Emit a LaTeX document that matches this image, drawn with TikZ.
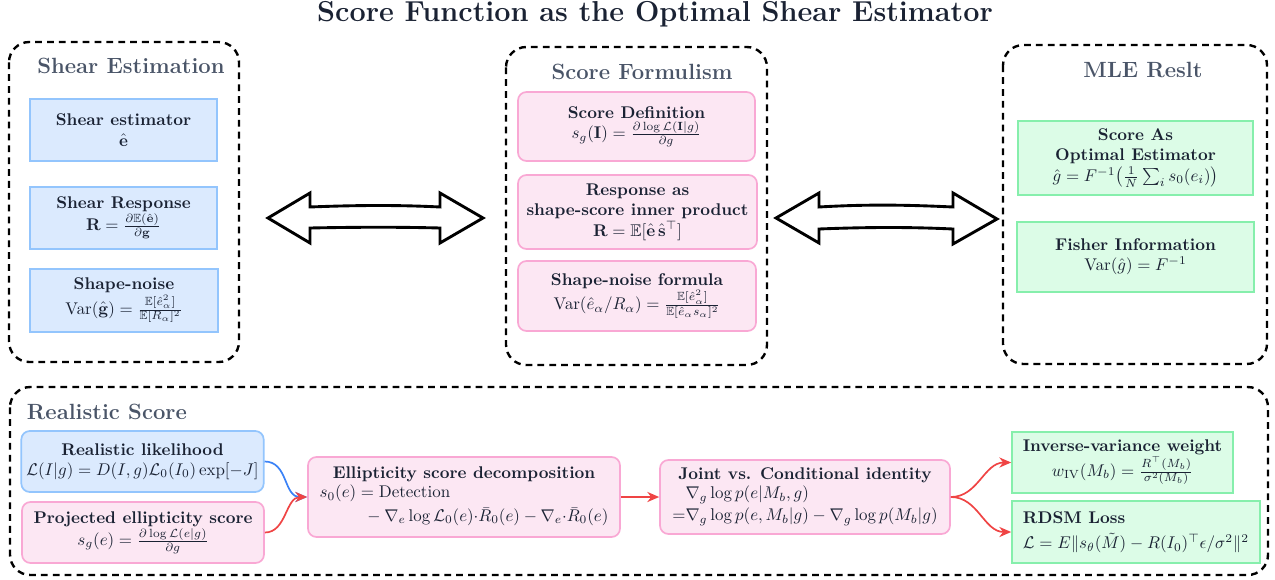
\documentclass[tikz,border=0pt]{standalone}
\usepackage{amsmath,amssymb}
\usetikzlibrary{arrows.meta}

\definecolor{ink}{HTML}{1A2233}
\definecolor{slate}{HTML}{4A5568}
\definecolor{bluef}{HTML}{DBEAFE}
\definecolor{blued}{HTML}{93C5FD}
\definecolor{pinkf}{HTML}{FCE7F3}
\definecolor{pinkd}{HTML}{F9A8D4}
\definecolor{greenf}{HTML}{DCFCE7}
\definecolor{greend}{HTML}{86EFAC}
\definecolor{flowred}{HTML}{EF4444}
\definecolor{flowblue}{HTML}{3B82F6}

\tikzset{
  box/.style={draw, line width=1pt, text=ink, align=center, inner sep=3pt},
  bluebox/.style={box, fill=bluef, draw=blued},
  bluerbox/.style={box, fill=bluef, draw=blued, rounded corners=5pt},
  pinkbox/.style={box, fill=pinkf, draw=pinkd, rounded corners=5pt},
  greenbox/.style={box, fill=greenf, draw=greend},
  group/.style={draw=black, dash pattern=on 4pt off 3pt, line width=1.4pt, rounded corners=12pt},
  heading/.style={text=slate, font=\fontsize{13}{15}\selectfont\bfseries},
  dblarrow/.style={draw=black, fill=white, line width=1.7pt, line join=miter},
  redflow/.style={draw=flowred, line width=1pt, -{Stealth[length=7pt,width=6pt]}},
  blueflow/.style={draw=flowblue, line width=1pt, -{Stealth[length=7pt,width=6pt]}},
}

\begin{document}
\begin{tikzpicture}[x=0.59pt,y=-0.59pt]
\useasboundingbox (0,0) rectangle (1275,579);

% title
\node[text=ink, inner sep=0pt, font=\fontsize{17}{20}\selectfont\bfseries] (title) at (655,14) {Score Function as the Optimal Shear Estimator};

% group frames
\draw[group] (9,42) rectangle (239,362);
\draw[group] (506,47) rectangle (767,365);
\draw[group] (1003,45) rectangle (1267,364);
\draw[group] (10,387) rectangle (1268,575);

\node[heading] (h1) at (131,66) {Shear Estimation};
\node[heading] (h2) at (642,72) {Score Formulism};
\node[heading] (h3) at (1143,70) {MLE Reslt};
\node[heading, anchor=west] (h4) at (21,412) {Realistic Score};

% shear estimation column
\node[bluebox, minimum width=187*0.59pt, minimum height=62*0.59pt] (se) at (123.5,130)
  {\textbf{Shear estimator}\\ $\hat{\mathbf{e}}$};
\node[bluebox, minimum width=187*0.59pt, minimum height=62*0.59pt] (sr) at (123.5,218)
  {\textbf{Shear Response}\\ $\mathbf{R} = \frac{\partial\mathbb{E}(\hat{\mathbf{e}})}{\partial\mathbf{g}}$};
\node[bluebox, minimum width=188*0.59pt, minimum height=63*0.59pt] (sn) at (124,300.5)
  {\textbf{Shape-noise}\\ $\mathrm{Var}(\hat{\mathbf{g}}) = \frac{\mathbb{E}[\hat{e}_\alpha^2]}{\mathbb{E}[R_\alpha]^2}$};

% score formalism column
\node[pinkbox, minimum width=237*0.59pt, minimum height=69*0.59pt] (sd) at (636.5,126.5)
  {\textbf{Score Definition}\\ $s_g(\mathbf{I}) = \frac{\partial\log\mathcal{L}(\mathbf{I}|g)}{\partial g}$};
\node[pinkbox, minimum width=239*0.59pt, minimum height=74*0.59pt] (ra) at (637.5,212)
  {\textbf{Response as}\\ \textbf{shape-score inner product}\\ $\mathbf{R} = \mathbb{E}[\hat{\mathbf{e}}\,\hat{\mathbf{s}}^{\top}]$};
\node[pinkbox, minimum width=238*0.59pt, minimum height=70*0.59pt] (sf) at (637,296)
  {\textbf{Shape-noise formula}\\ $\mathrm{Var}(\hat{e}_\alpha/R_\alpha) = \frac{\mathbb{E}[\hat{e}_\alpha^2]}{\mathbb{E}[\hat{e}_\alpha s_\alpha]^2}$};

% MLE column
\node[greenbox, minimum width=235*0.59pt, minimum height=74*0.59pt] (oe) at (1135.5,158)
  {\textbf{Score As}\\ \textbf{Optimal Estimator}\\ $\hat{g} = F^{-1}\bigl(\frac{1}{N}\sum_i s_0(e_i)\bigr)$};
\node[greenbox, minimum width=237*0.59pt, minimum height=70*0.59pt] (fi) at (1135.5,257)
  {\textbf{Fisher Information}\\ $\mathrm{Var}(\hat{g}) = F^{-1}$};

% two-headed block arrows between the columns
\draw[dblarrow] (268,218) -- (310,193) -- (310,207)
  .. controls (360,205) and (400,205) .. (440,207) -- (440,193) -- (483,218)
  -- (440,243) -- (440,228) .. controls (400,227) and (360,227) .. (310,228)
  -- (310,243) -- cycle;
\draw[dblarrow] (776,218) -- (819,193) -- (819,207)
  .. controls (870,204) and (910,205) .. (953,207) -- (953,193) -- (997,219)
  -- (953,244) -- (953,229) .. controls (910,227) and (870,227) .. (819,229)
  -- (819,243) -- cycle;

% realistic score row
\node[bluerbox, minimum width=241*0.59pt, minimum height=61*0.59pt] (rl) at (142.5,461.5)
  {\textbf{Realistic likelihood}\\ $\mathcal{L}(I|g) = D(I,g)\mathcal{L}_0(I_0)\exp[-J]$};
\node[pinkbox, minimum width=242*0.59pt, minimum height=61*0.59pt] (pe) at (143,532.5)
  {\textbf{Projected ellipticity score}\\ $s_g(e) = \frac{\partial\log\mathcal{L}(e|g)}{\partial g}$};
\node[pinkbox, minimum width=312*0.59pt, minimum height=80*0.59pt] (dec) at (464,497)
  {\textbf{Ellipticity score decomposition}\\
   $\begin{array}{@{}l@{}}
     s_0(e) = \text{Detection}\\[2pt]
     \hspace{2.6em}{}-\nabla_e\log\mathcal{L}_0(e){\cdot}\bar{R}_0(e)-\nabla_e{\cdot}\bar{R}_0(e)
    \end{array}$};
\node[pinkbox, minimum width=290*0.59pt, minimum height=74*0.59pt] (jc) at (805,497)
  {\textbf{Joint vs. Conditional identity}\\
   $\begin{array}{@{}r@{}l@{}}
     & \nabla_g\log p(e|M_b,g)\\[1pt]
     = & \nabla_g\log p(e,M_b|g) - \nabla_g\log p(M_b|g)
    \end{array}$};
\node[greenbox, minimum width=221*0.59pt, minimum height=61*0.59pt] (iv) at (1122.5,462.5)
  {\textbf{Inverse-variance weight}\\ $w_{\mathrm{IV}}(M_b) = \frac{R^{\top}(M_b)}{\sigma^2(M_b)}$};
\node[greenbox, minimum width=248*0.59pt, minimum height=62*0.59pt, align=left] (rd) at (1136,532)
  {\textbf{RDSM Loss}\\[3pt] $\mathcal{L} = E\|s_\theta(\tilde{M}) - R(I_0)^{\top}\epsilon/\sigma^2\|^2$};

% flow connectors
\draw[blueflow] (rl.east) to[out=0, in=180, looseness=1.1] (dec.west);
\draw[redflow] (pe.east) to[out=0, in=180] (dec.west);
\draw[redflow] (dec.east) -- (jc.west);
\draw[redflow] (jc.east) to[out=0, in=180] (iv.west);
\draw[redflow] (jc.east) to[out=0, in=180] (rd.west);
\end{tikzpicture}
\end{document}
